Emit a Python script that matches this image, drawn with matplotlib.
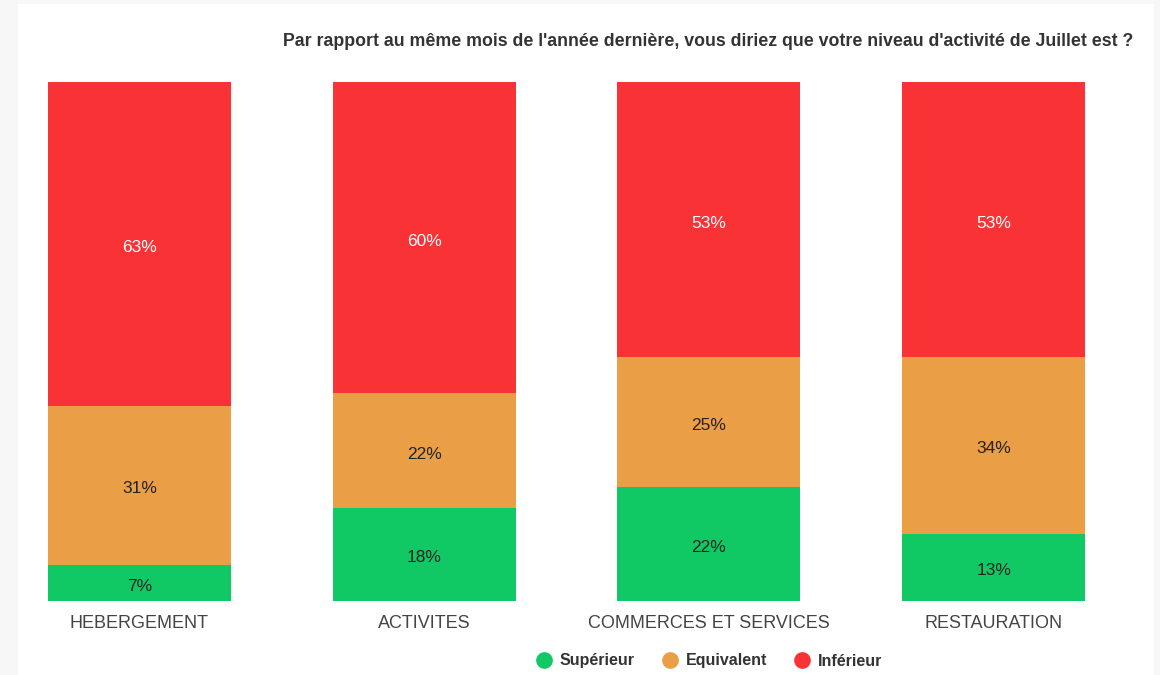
import numpy as np
import matplotlib.pyplot as plt
from matplotlib.patches import Rectangle
from matplotlib.lines import Line2D

plt.rcParams['font.family'] = ['Liberation Sans', 'DejaVu Sans']

categories = ['HEBERGEMENT', 'ACTIVITES', 'COMMERCES ET SERVICES', 'RESTAURATION']
series = ['Supérieur', 'Equivalent', 'Inférieur']
superieur = [7, 18, 22, 13]
equivalent = [31, 22, 25, 34]
inferieur = [63, 60, 53, 53]
colors = ['#10c965', '#ea9e45', '#f93335']
label_colors = ['#222222', '#222222', 'white']
title = "Par rapport au même mois de l'année dernière, vous diriez que votre niveau d'activité de Juillet est ?"

W, H = 1160, 675
fig = plt.figure(figsize=(W / 100, H / 100), dpi=100)
fig.patch.set_facecolor('#f7f7f7')
# white panel behind everything
fig.patches.append(Rectangle((18 / W, 0), (1154 - 18) / W, 1 - 4 / H,
                             transform=fig.transFigure, facecolor='white',
                             edgecolor='none', zorder=-10))

ax = fig.add_axes([48 / W, 1 - 601 / H, (1085 - 48) / W, (601 - 82) / H])
ax.set_facecolor('none')

data = np.array([superieur, equivalent, inferieur], dtype=float)
share = data / data.sum(axis=0)
x = np.arange(len(categories))
bw = 0.642
bottom = np.zeros(len(categories))
for i in range(len(series)):
    ax.bar(x, share[i], bw, bottom=bottom, color=colors[i], edgecolor='none')
    for j in range(len(categories)):
        ax.annotate('%d%%' % data[i][j], (x[j], bottom[j] + share[i][j] / 2),
                    xytext=(0, -1.5), textcoords='offset points',
                    ha='center', va='center_baseline', fontsize=12.5, color=label_colors[i])
    bottom += share[i]

ax.set_xlim(-bw / 2, len(categories) - 1 + bw / 2)
ax.set_ylim(0, 1)
ax.set_yticks([])
ax.set_xticks(x)
ax.set_xticklabels(categories, fontsize=13, color='#444444')
ax.tick_params(axis='x', length=0, pad=10)
for s in ax.spines.values():
    s.set_visible(False)

fig.text(1133 / W, 1 - 42 / H, title, ha='right', va='center',
         fontsize=12.75, fontweight='bold', color='#333333')

handles = [Line2D([], [], marker='o', linestyle='none', markersize=11,
                  markerfacecolor=c, markeredgecolor=c) for c in colors]
leg = fig.legend(handles, series, loc='center', bbox_to_anchor=(705 / W, 1 - 661 / H),
                 ncol=3, frameon=False, handletextpad=0.0, columnspacing=1.2,
                 prop={'weight': 'bold', 'size': 11.5})
for t in leg.get_texts():
    t.set_color('#333333')

fig.savefig('out.png', dpi=100)
